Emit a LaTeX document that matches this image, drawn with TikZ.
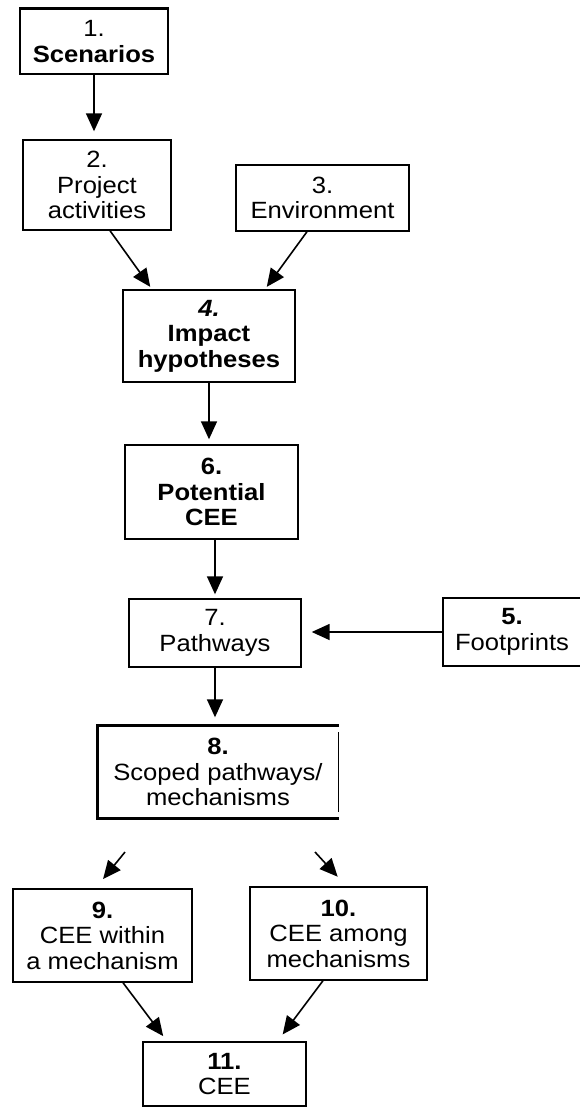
\documentclass[tikz,border=0pt]{standalone}
\usepackage{fontspec}
\setmainfont{Liberation Sans}[FakeStretch=1.09]
\usetikzlibrary{arrows.meta}
\begin{document}
\begin{tikzpicture}[x=1pt,y=-1pt,
  box/.style={draw, line width=1.4pt, align=center, inner sep=0pt,
    font=\fontsize{23.5}{25.5}\selectfont},
  arr/.style={line width=1.6pt, -{Triangle[length=18pt,width=16pt]}}]
\useasboundingbox (0,0) rectangle (579,1107);

% boxes
\node[box, minimum width=148pt, minimum height=65pt] (b1) at (94,41.5) {1.\\\textbf{Scenarios}};
\draw[line width=2.6pt] (b1.north west) -- (b1.north east);
\node[box, minimum width=148pt, minimum height=90pt] (b2) at (97,185) {2.\\Project\\activities};
\node[box, minimum width=173pt, minimum height=66pt] (b3) at (322.5,198) {3.\\Environment};
\node[box, minimum width=172pt, minimum height=92pt] (b4) at (209,336) {\textbf{\textit{4.}}\\\textbf{Impact}\\\textbf{hypotheses}};
\node[box, minimum width=173pt, minimum height=94pt] (b6) at (211.5,492) {\textbf{6.}\\\textbf{Potential}\\\textbf{CEE}};
\node[box, minimum width=172pt, minimum height=68pt] (b7) at (215,633) {7.\\Pathways};
\node[box, minimum width=138pt, minimum height=68pt] (b5) at (512,632) {\textbf{5.}\\Footprints};
\node[box, draw=none, minimum width=240pt, minimum height=92pt] (b8) at (218,772) {\textbf{8.}\\Scoped pathways/\\mechanisms};
\draw[line width=3pt] (b8.north east) -- (b8.north west) -- (b8.south west) -- (b8.south east);
\draw[line width=1.2pt] ([yshift=-7pt]b8.north east) -- ([yshift=7pt]b8.south east);
\node[box, minimum width=179pt, minimum height=93pt] (b9) at (102.5,935.5) {\textbf{9.}\\CEE within\\a mechanism};
\node[box, minimum width=177pt, minimum height=93pt] (b10) at (338.5,933.5) {\textbf{10.}\\CEE among\\mechanisms};
\node[box, minimum width=163pt, minimum height=64pt] (b11) at (224.5,1074) {\textbf{11.}\\CEE};

% connectors
\draw[arr, shorten >=8pt] (b1.south) -- (b1.south |- b2.north);
\draw[arr, shorten >=3pt] ([xshift=13pt]b2.south) -- ([xshift=-57pt]b4.north);
\draw[arr, shorten >=3pt] ([xshift=-15.5pt]b3.south) -- ([xshift=56pt]b4.north);
\draw[arr, shorten >=5pt] (b4.south) -- (b4.south |- b6.north);
\draw[arr, shorten >=4pt] (b7.north |- b6.south) -- (b7.north);
\draw[arr, shorten >=10pt] (b5.west) -- (b5.west -| b7.east);
\draw[arr, shorten >=8pt] (b7.south) -- (b7.south |- b8.north);
\coordinate (s9) at (125,852);
\coordinate (s10) at (315,852);
\draw[arr, shorten >=12pt] (s9) -- ([xshift=-7pt]b9.north);
\draw[arr, shorten >=13pt] (s10) -- ([xshift=8pt]b10.north);
\draw[arr, shorten >=6.5pt] ([xshift=20.5pt]b9.south) -- ([xshift=-57.4pt]b11.north);
\draw[arr, shorten >=8.6pt] ([xshift=-15.5pt]b10.south) -- ([xshift=53pt]b11.north);
\end{tikzpicture}
\end{document}
